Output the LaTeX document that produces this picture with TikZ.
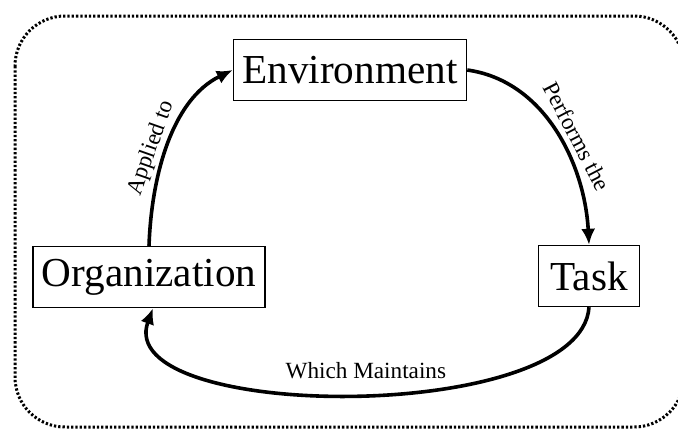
\documentclass[tikz,border=0pt]{standalone}
\usepackage{fontspec}
\setmainfont{Liberation Serif}
\usetikzlibrary{positioning, arrows.meta}

\begin{document}
\begin{tikzpicture}[
    x=0.5pt, y=0.5pt,
    block/.style={
        draw, line width=0.7pt, inner xsep=4.5pt, inner ysep=0pt,
        minimum height=30.5pt, font=\fontsize{20.6}{22}\selectfont
    },
    flow/.style={
        -{Latex[length=8pt, width=7pt]}, line width=1.8pt
    },
    lbl/.style={
        font=\fontsize{11.6}{13}\selectfont, inner sep=1pt
    },
    frame/.style={
        line width=1.5pt, dash pattern=on 1.15pt off 1.0pt, rounded corners=25pt
    }
]

\useasboundingbox (0,0) rectangle (678,-429);

% Outer dotted frame
\draw[frame] (15,-16) rectangle (684,-427);

% Blocks
\node[block] (env) at (350,-70) {Environment};
\node[block] (org) at (149,-277) {Organization};
\node[block, inner xsep=6pt] (task) at (589,-276) {Task};

% Cycle arrows
\draw[flow] (org.north) to[out=88, in=206, looseness=0.9]
    node[lbl, pos=0.45, sloped, above] {Applied to} (env.west);
\draw[flow] (env.east) to[out=-8, in=93, looseness=0.95]
    node[lbl, pos=0.56, sloped, above=2pt] {Performs the} (task.north);
\draw[flow] (task.south) .. controls +(-8,-118) and +(-42,-114) ..
    node[lbl, pos=0.48, above=6pt] {Which Maintains} ([xshift=2pt]org.south);

\end{tikzpicture}
\end{document}
